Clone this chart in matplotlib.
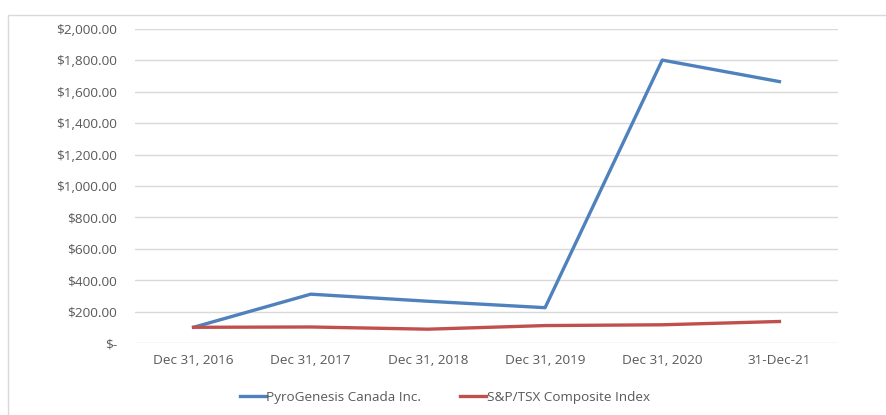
import matplotlib
matplotlib.use("Agg")
import matplotlib.pyplot as plt
from matplotlib.patches import Rectangle
from matplotlib.ticker import FuncFormatter

categories = ["Dec 31, 2016", "Dec 31, 2017", "Dec 31, 2018", "Dec 31, 2019", "Dec 31, 2020", "31-Dec-21"]
pyro = [100, 311, 266, 225, 1802, 1665]
tsx = [100, 102, 88, 111, 116, 137]
series_names = ["PyroGenesis Canada Inc.", "S&P/TSX Composite Index"]
yticks = [0, 200, 400, 600, 800, 1000, 1200, 1400, 1600, 1800, 2000]

plt.rcParams['font.family'] = ['Open Sans', 'DejaVu Sans']
txt = '#595959'
fs = 9.7

fig = plt.figure(figsize=(8.87, 4.15), dpi=100)
fig.patches.append(Rectangle((8/887, -0.1), 1.2, 1 - 15/415 + 0.1, transform=fig.transFigure,
                             fill=False, edgecolor='#D9D9D9', linewidth=1))
ax = fig.add_axes([135/887, 1 - 343/415, 703/887, 314/415])

x = list(range(len(categories)))
ax.plot(x, pyro, color='#4F81BD', linewidth=2.4, label=series_names[0], solid_joinstyle='round')
ax.plot(x, tsx, color='#C0504D', linewidth=2.4, label=series_names[1], solid_joinstyle='round')

ax.set_xlim(-0.5, len(categories) - 0.5)
ax.set_ylim(0, 2000)
ax.set_xticks(x)
ax.set_xticklabels(categories)
ax.set_yticks(yticks)
ax.yaxis.set_major_formatter(FuncFormatter(lambda v, p: "$-" if v == 0 else f"${v:,.2f}"))
ax.tick_params(axis='both', length=0, labelsize=fs, colors=txt)
ax.tick_params(axis='y', pad=13)
ax.tick_params(axis='x', pad=8)
for s in ax.spines.values():
    s.set_visible(False)
ax.grid(axis='y', color='#D9D9D9', linewidth=1)
ax.set_axisbelow(True)

fig.legend(loc='center', bbox_to_anchor=(445/887, 1 - 397/415), ncol=2, frameon=False,
           fontsize=fs, labelcolor=txt, handlelength=1.9, handletextpad=0.05, columnspacing=2.9)

fig.savefig("out.png", dpi=100)
